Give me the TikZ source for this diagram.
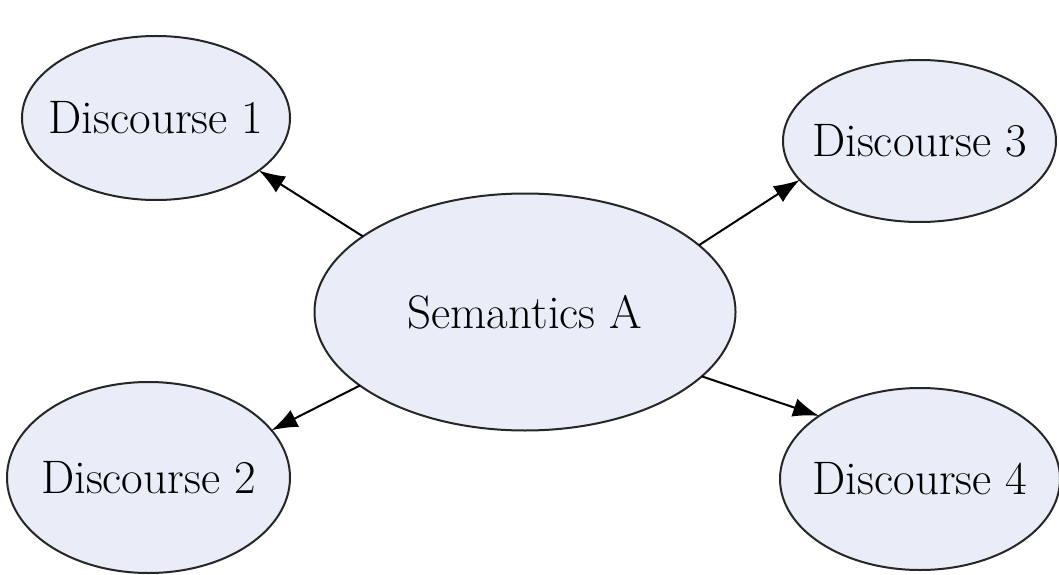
\documentclass[tikz,border=0pt]{standalone}
\usepackage{fontspec}
\usetikzlibrary{arrows.meta,shapes.geometric}
\definecolor{ellfill}{RGB}{232,237,247}
\tikzset{
  ell/.style={ellipse, draw=black!85, line width=2pt, fill=ellfill, inner sep=0pt, outer sep=0pt},
  txt/.style={font=\fontsize{47}{55}\selectfont, inner sep=0pt},
  conn/.style={line width=2pt, -{Latex[length=26pt,width=19pt]}}
}
\begin{document}
\begin{tikzpicture}[x=1pt,y=1pt]
\useasboundingbox[fill=white] (0,0) rectangle (1059,574);
\node[ell, minimum width=421pt, minimum height=237pt, label={[txt]center:Semantics A}] (S) at (525,262) {};
\node[ell, minimum width=268pt, minimum height=164pt, label={[txt]center:Discourse 1}] (D1) at (156,456) {};
\node[ell, minimum width=273pt, minimum height=162pt, label={[txt]center:Discourse 3}] (D3) at (919.5,433) {};
\node[ell, minimum width=283pt, minimum height=191pt, label={[txt]center:Discourse 2}] (D2) at (148.5,96.5) {};
\node[ell, minimum width=280pt, minimum height=182pt, label={[txt]center:Discourse 4}] (D4) at (920,95) {};
\draw[conn] (S.155.8) -- (D1.-27.9);
\draw[conn] (S.21.3) -- (D3.-162.6);
\draw[conn] (S.204.3) -- (D2.21.8);
\draw[conn] (S.-20.2) -- (D4.148.6);
\end{tikzpicture}
\end{document}
